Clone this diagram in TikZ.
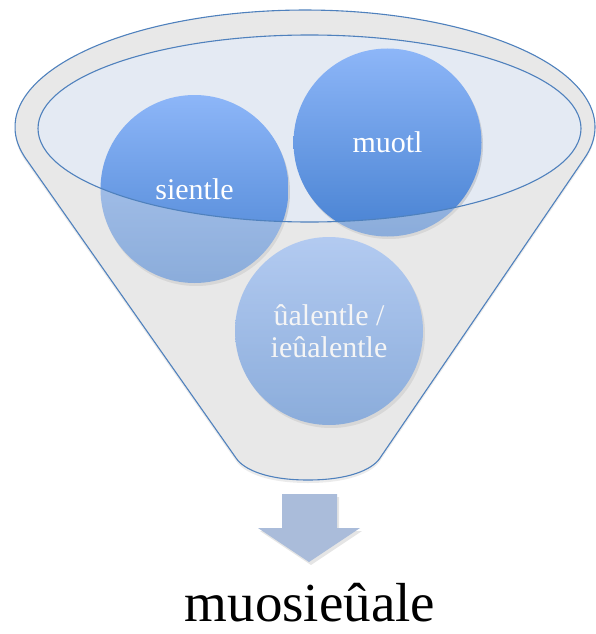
\documentclass[tikz,border=0pt]{standalone}
\usepackage{fontspec}
\setmainfont{Liberation Serif}
\definecolor{funnelgray}{RGB}{232,232,232}
\definecolor{edgeblue}{RGB}{79,129,189}
\definecolor{mouthfill}{RGB}{228,234,243}
\definecolor{balltop}{RGB}{141,182,248}
\definecolor{ballbot}{RGB}{72,130,210}
\definecolor{arrowblue}{RGB}{170,188,218}
\def\funnelpath{(26,158.9) arc[start angle=164.2, end angle=375.8, x radius=290, y radius=117] -- (380,458) .. controls (372,470) and (348,480) .. (308,480) .. controls (268,480) and (244,470) .. (236,458) -- cycle}
\def\mouthpath{(309.5,128.5) ellipse[x radius=271.5, y radius=93.5]}
\tikzset{
  ball/.style={circle, minimum size=188pt, inner sep=0pt, top color=balltop, bottom color=ballbot, text=white, align=center, font=\fontsize{30}{32}\selectfont},
  outline/.style={draw=edgeblue, line width=1.1pt},
  bigtext/.style={font=\fontsize{55}{58}\selectfont, text=black, anchor=base, inner sep=0pt}
}
\begin{document}
\begin{tikzpicture}[x=1pt,y=-1pt]
\useasboundingbox (0,0) rectangle (595,634);
% funnel body
\fill[black, opacity=0.08] [yshift=-3pt] \funnelpath;
\fill[funnelgray] \funnelpath;
\fill[mouthfill] \mouthpath;
% balls
\fill[black, opacity=0.12] (196,192) circle[radius=94];
\fill[black, opacity=0.12] (389,145) circle[radius=94];
\fill[black, opacity=0.12] (331,334) circle[radius=94];
\node[ball] (s) at (194.5,189) {sientle};
\node[ball] (m) at (387.5,142.5) {muotl};
\node[ball] (v) at (329,331) {ûalentle /\\ieûalentle};
% front of funnel, translucent
\fill[funnelgray, opacity=0.42, even odd rule] \funnelpath \mouthpath;
% outlines
\draw[outline] \mouthpath;
\draw[outline] \funnelpath;
% output arrow
\fill[black, opacity=0.1] (284,497) -- (339,497) -- (339,531) -- (362,531) -- (311,565) -- (260,531) -- (284,531) -- cycle;
\fill[arrowblue] (282,494) -- (337,494) -- (337,528) -- (360,528) -- (309,562) -- (258,528) -- (282,528) -- cycle;
\node[bigtext] (out) at (310,621) {muosieûale};
\end{tikzpicture}
\end{document}
